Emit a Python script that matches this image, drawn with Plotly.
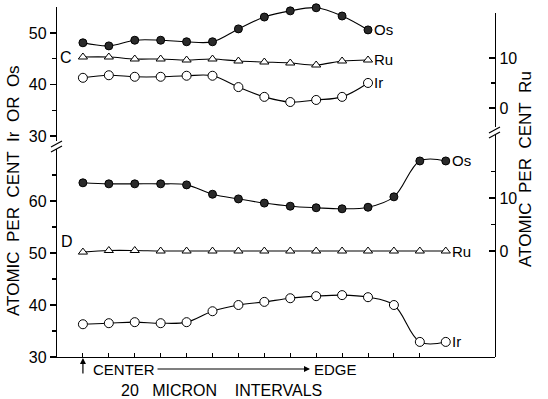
import plotly.graph_objects as go

# ---------------- data ----------------
x_top = list(range(12))
os_top = [48.1, 47.5, 48.6, 48.6, 48.3, 48.3, 50.8, 53.1, 54.3, 54.9, 53.3, 50.6]
ru_top = [10.2, 10.2, 9.8, 9.8, 9.6, 9.8, 9.4, 9.2, 9.0, 8.6, 9.4, 9.6]
ir_top = [41.3, 41.8, 41.5, 41.5, 41.7, 41.7, 39.5, 37.6, 36.6, 37.0, 37.6, 40.3]

x_bot = list(range(15))
os_bot = [63.5, 63.3, 63.3, 63.3, 63.1, 61.3, 60.4, 59.6, 59.0, 58.7, 58.5, 58.8, 60.8, 67.7, 67.7]
ru_bot = [-0.2, 0.1, 0.1, 0.0, 0.0, 0.0, 0.0, 0.0, 0.0, 0.0, 0.0, 0.0, 0.0, 0.0, 0.0]
ir_bot = [36.3, 36.5, 36.7, 36.5, 36.7, 38.8, 40.0, 40.6, 41.3, 41.7, 41.9, 41.5, 40.0, 32.9, 32.9]

x_ticks = list(range(14))
left_top_ticks = [30, 40, 50]
left_top_minor = [35, 45]
left_bot_ticks = [30, 40, 50, 60]
left_bot_minor = [35, 45, 55, 65]
right_top_ticks = [0, 10]
right_top_minor = [5]
right_bot_ticks = [0, 10]
right_bot_minor = [5, 15]

# ---------------- layout helpers ----------------
W, H = 548, 399
L, R, T, B = 57, 53, 5, 42
PW, PH = W - L - R, H - T - B
FONT = "Liberation Sans, Arial, sans-serif"
SP = "\u00a0" * 2


def fx(px):
    return (px - L) / PW


def fy(py):
    return (H - B - py) / PH


line_style = dict(color="black", width=1.1, shape="spline", smoothing=1.0)
os_marker = dict(symbol="circle", size=8, color="#2a2a2a", line=dict(color="black", width=1))
ir_marker = dict(symbol="circle", size=9, color="white", line=dict(color="black", width=1))
ru_marker = dict(symbol="triangle-up", size=8, color="white", line=dict(color="black", width=1))

fig = go.Figure()
fig.add_trace(go.Scatter(x=x_top, y=os_top, mode="lines+markers", line=line_style, marker=os_marker, xaxis="x", yaxis="y", cliponaxis=False))
fig.add_trace(go.Scatter(x=x_top, y=ir_top, mode="lines+markers", line=line_style, marker=ir_marker, xaxis="x", yaxis="y", cliponaxis=False))
fig.add_trace(go.Scatter(x=x_top, y=ru_top, mode="lines+markers", line=line_style, marker=ru_marker, xaxis="x", yaxis="y3", cliponaxis=False))
fig.add_trace(go.Scatter(x=x_bot, y=os_bot, mode="lines+markers", line=line_style, marker=os_marker, xaxis="x", yaxis="y2", cliponaxis=False))
fig.add_trace(go.Scatter(x=x_bot, y=ir_bot, mode="lines+markers", line=line_style, marker=ir_marker, xaxis="x", yaxis="y2", cliponaxis=False))
fig.add_trace(go.Scatter(x=x_bot, y=ru_bot, mode="lines+markers", line=line_style, marker=ru_marker, xaxis="x", yaxis="y4", cliponaxis=False))

tickfont = dict(family=FONT, size=16, color="black")
common_y = dict(showgrid=False, zeroline=False, showline=True, linecolor="black", linewidth=1.2,
                tickfont=tickfont, tickmode="array", ticklen=6, tickcolor="black", tickwidth=1.2)

fig.update_layout(
    width=W, height=H,
    margin=dict(l=L, r=R, t=T, b=B),
    paper_bgcolor="white", plot_bgcolor="rgba(0,0,0,0)",
    showlegend=False, hovermode=False,
    font=dict(family=FONT, color="black"),
    xaxis=dict(domain=[0, 1], range=[-1.0, 15.9], anchor="y2", showgrid=False, zeroline=False,
               showline=True, linecolor="black", linewidth=1.2, ticks="inside", ticklen=4,
               tickcolor="black", tickmode="array", tickvals=x_ticks, showticklabels=False),
    yaxis=dict(common_y, domain=[fy(141), fy(7)], range=[29.03, 55.05], anchor="x", side="left",
               ticks="outside", tickvals=left_top_ticks,
               minor=dict(tickvals=left_top_minor, ticks="outside", ticklen=4, tickcolor="black")),
    yaxis2=dict(common_y, domain=[0, fy(149)], range=[30, 70], anchor="x", side="left",
                ticks="outside", tickvals=left_bot_ticks,
                minor=dict(tickvals=left_bot_minor, ticks="outside", ticklen=4, tickcolor="black")),
    yaxis3=dict(common_y, domain=[fy(127), fy(13)], range=[-3.8, 19.0], anchor="x", side="right",
                ticks="inside", tickvals=right_top_ticks,
                minor=dict(tickvals=right_top_minor, ticks="inside", ticklen=4, tickcolor="black")),
    yaxis4=dict(common_y, domain=[0, fy(135)], range=[-20.0, 21.9], anchor="x", side="right",
                ticks="inside", tickvals=right_bot_ticks,
                minor=dict(tickvals=right_bot_minor, ticks="inside", ticklen=4, tickcolor="black")),
)

lab = dict(family=FONT, size=15, color="black")
ann = []
# series labels
ann.append(dict(x=x_top[-1], y=os_top[-1], xref="x", yref="y", text="Os", showarrow=False, xanchor="left", yanchor="middle", xshift=4, font=lab))
ann.append(dict(x=x_top[-1], y=ru_top[-1], xref="x", yref="y3", text="Ru", showarrow=False, xanchor="left", yanchor="middle", xshift=4, font=lab))
ann.append(dict(x=x_top[-1], y=ir_top[-1], xref="x", yref="y", text="Ir", showarrow=False, xanchor="left", yanchor="middle", xshift=4, font=lab))
ann.append(dict(x=x_bot[-1], y=os_bot[-1], xref="x", yref="y2", text="Os", showarrow=False, xanchor="left", yanchor="middle", xshift=4, font=lab))
ann.append(dict(x=x_bot[-1], y=ru_bot[-1], xref="x", yref="y4", text="Ru", showarrow=False, xanchor="left", yanchor="middle", xshift=4, font=lab))
ann.append(dict(x=x_bot[-1], y=ir_bot[-1], xref="x", yref="y2", text="Ir", showarrow=False, xanchor="left", yanchor="middle", xshift=4, font=lab))
# panel letters
ann.append(dict(x=fx(66), y=fy(58), xref="paper", yref="paper", text="C", showarrow=False, xanchor="center", yanchor="middle", font=dict(lab, size=16)))
ann.append(dict(x=fx(67), y=fy(241), xref="paper", yref="paper", text="D", showarrow=False, xanchor="center", yanchor="middle", font=dict(lab, size=16)))
# axis titles
ann.append(dict(x=fx(14), y=fy(191), xref="paper", yref="paper", textangle=-90, showarrow=False,
                xanchor="center", yanchor="middle",
                text="ATOMIC" + SP + "PER" + SP + "CENT" + SP + "Ir" + SP + "OR" + SP + "Os", font=dict(lab, size=17)))
ann.append(dict(x=fx(525), y=fy(169), xref="paper", yref="paper", textangle=-90, showarrow=False,
                xanchor="center", yanchor="middle",
                text="ATOMIC" + SP + "PER" + SP + "CENT" + SP + "Ru", font=dict(lab, size=17)))
# x-axis legend
ann.append(dict(x=fx(91), y=fy(369), xref="paper", yref="paper", text="CENTER", showarrow=False, xanchor="left", yanchor="middle", font=lab))
ann.append(dict(x=fx(312), y=fy(369), xref="paper", yref="paper", text="EDGE", showarrow=False, xanchor="left", yanchor="middle", font=lab))
ann.append(dict(x=fx(310), y=fy(369), xref="paper", yref="paper", text="", showarrow=True, ax=-154, ay=0,
                arrowhead=2, arrowsize=1, arrowwidth=1.2, arrowcolor="black"))
ann.append(dict(x=0, y=fy(358), xref="x", yref="paper", text="", showarrow=True, ax=0, ay=17,
                arrowhead=2, arrowsize=1, arrowwidth=1.2, arrowcolor="black"))
ann.append(dict(x=fx(221), y=fy(390), xref="paper", yref="paper", xanchor="center", yanchor="middle",
                text="20" + "\u00a0" * 3 + "MICRON" + "\u00a0" * 4 + "INTERVALS", showarrow=False, font=dict(lab, size=16)))
fig.update_layout(annotations=ann)

# axis break marks
shapes = []
for (x0, y0, x1, y1) in [(51, 147, 62, 141), (51, 152, 62, 146), (489, 133, 500, 127), (489, 138, 500, 132)]:
    shapes.append(dict(type="line", xref="paper", yref="paper", x0=fx(x0), y0=fy(y0), x1=fx(x1), y1=fy(y1),
                       line=dict(color="black", width=1.2)))
fig.update_layout(shapes=shapes)

fig.write_html("out.html", config={"displayModeBar": False, "staticPlot": True},
               post_script="document.body.style.margin='0';document.body.style.padding='0';")
